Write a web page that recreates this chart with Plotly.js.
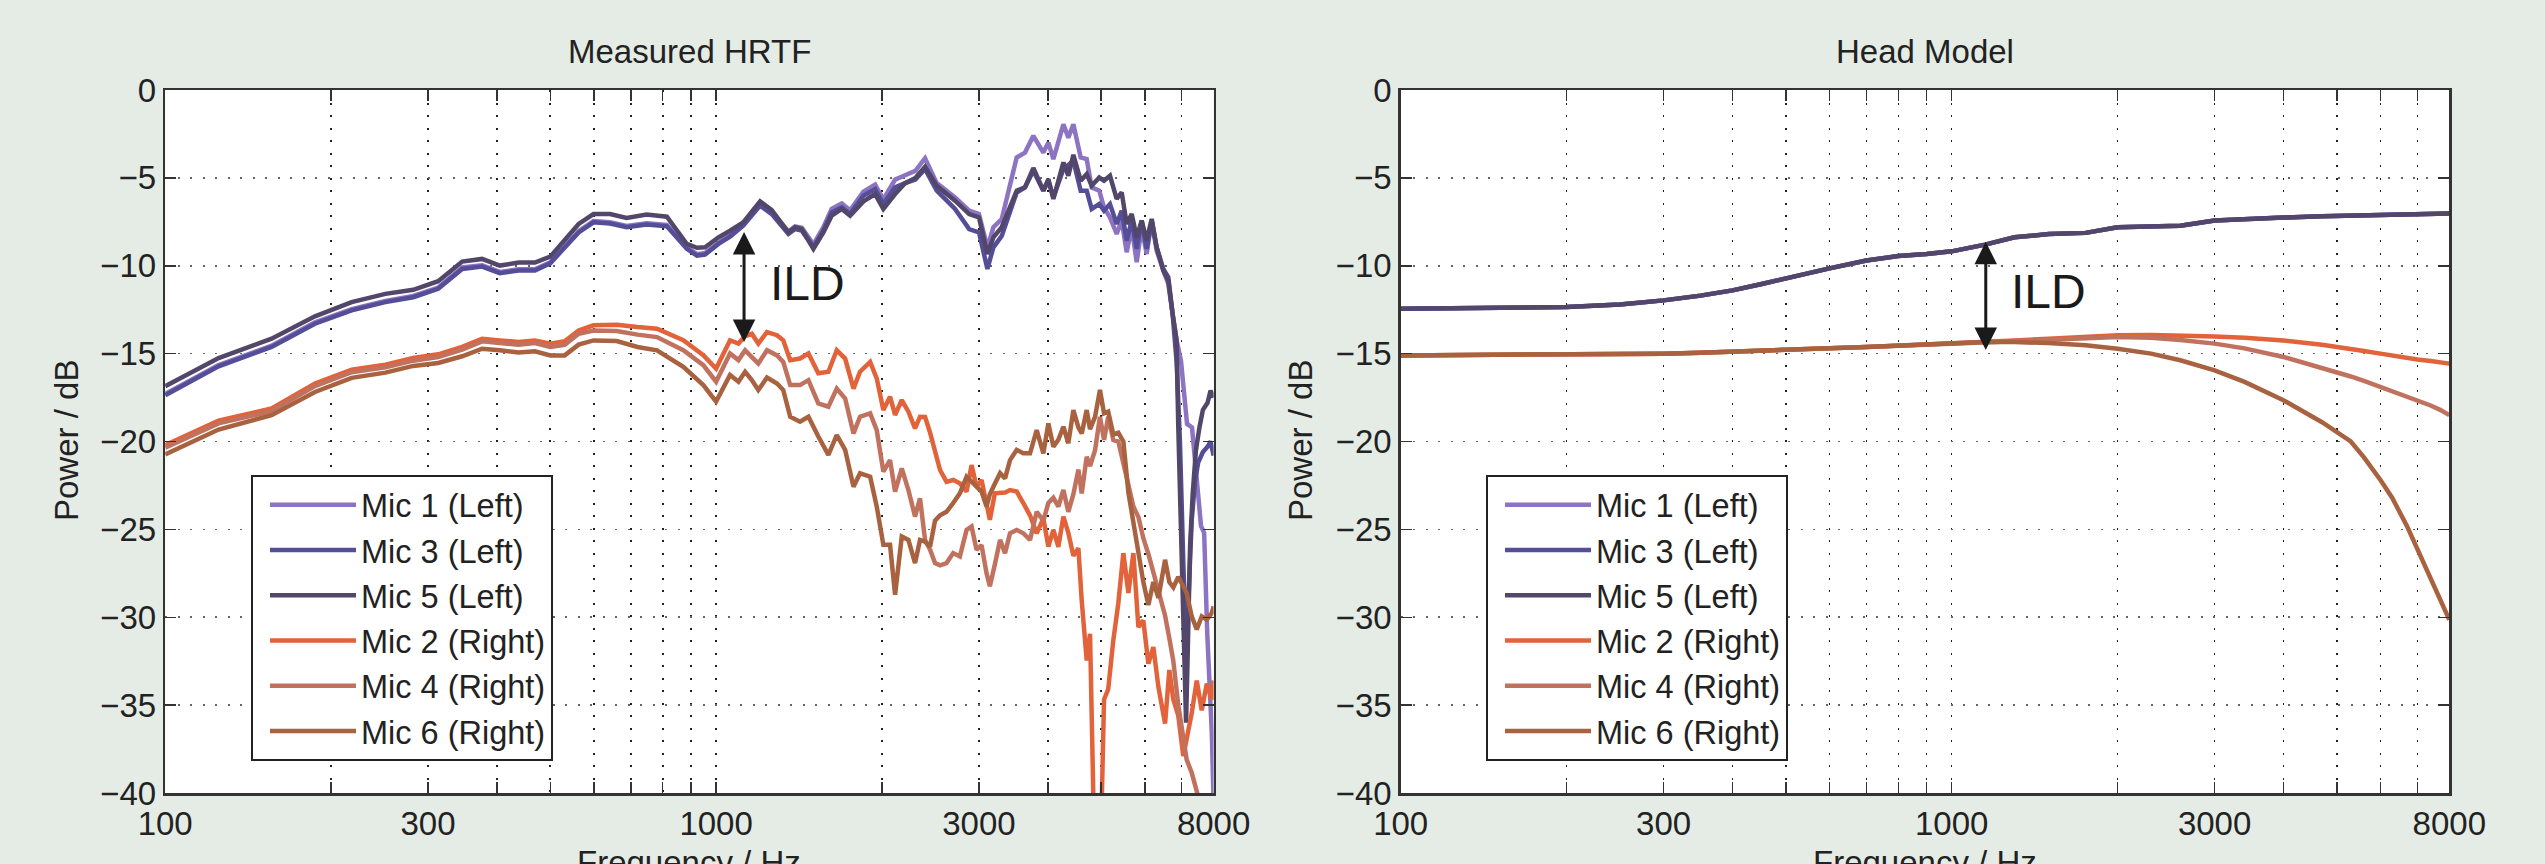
<!DOCTYPE html>
<html>
<head>
<meta charset="utf-8">
<script src="https://cdn.plot.ly/plotly-3.0.1.min.js"></script>
<style>html,body{margin:0;padding:0;background:#E4ECE5;}#chart{width:2545px;height:864px;}</style>
</head>
<body>
<div id="chart"></div>
<script>
// ---------- Measured HRTF: left-ear microphones ----------
const freqLeftLow = [100,125,156,187,218,251,282,313,346,376,405,438,469,500,563,599,642,688,748,814,885,923,955,1010,1060,1120,1202,1262,1353,1391,1431,1502,1566,1621,1691,1751,1851,1944,2012,2113];
const freqLeftHigh = [2203,2300,2395,2515,2715,2880,3000,3108,3187,3300,3513,3637,3766,3927,4010,4095,4270,4359,4452,4590,4707,4806,4960,5060,5188,5335,5448,5563,5681,5801,5923,6048,6176,6306,6483,6620,6740,6855];

const mic1Low = [-17.3,-15.65,-14.55,-13.22,-12.47,-12.0,-11.72,-11.24,-10.1,-9.97,-10.35,-10.2,-10.2,-9.8,-8.03,-7.46,-7.52,-7.74,-7.58,-7.68,-8.96,-9.34,-9.28,-8.68,-8.24,-7.62,-6.48,-6.95,-8.05,-7.76,-7.84,-8.78,-7.8,-6.76,-6.46,-6.84,-5.78,-5.38,-6.22,-5.1];
const mic3Low = [-17.37,-15.72,-14.62,-13.3,-12.54,-12.07,-11.79,-11.31,-10.18,-10.05,-10.42,-10.27,-10.27,-9.86,-8.1,-7.53,-7.6,-7.81,-7.66,-7.76,-9.04,-9.42,-9.36,-8.76,-8.34,-7.72,-6.58,-7.06,-8.19,-7.91,-8.0,-8.95,-8.0,-6.96,-6.68,-7.06,-6.02,-5.64,-6.49,-5.54];
const mic5Low = [-16.86,-15.25,-14.15,-12.88,-12.07,-11.60,-11.37,-10.88,-9.76,-9.61,-9.99,-9.82,-9.82,-9.48,-7.62,-7.06,-7.06,-7.28,-7.09,-7.21,-8.76,-8.98,-8.95,-8.38,-8.0,-7.53,-6.34,-6.83,-8.10,-7.81,-7.91,-9.04,-8.10,-7.15,-6.77,-7.15,-6.34,-5.92,-6.77,-5.92];

const mic1High = [-4.85,-4.6,-3.88,-5.3,-6.11,-6.87,-7.06,-8.95,-7.81,-7.34,-3.84,-3.56,-2.61,-3.56,-2.99,-3.93,-1.95,-2.71,-1.95,-3.84,-3.93,-5.54,-5.73,-6.68,-7.25,-8.19,-7.43,-9.23,-7.81,-9.80,-7.81,-9.33,-7.43,-9.14,-10.27,-11.03,-12.73,-14.25];
const mic3High = [-5.3,-5.1,-4.5,-5.73,-6.77,-7.91,-8.1,-10.18,-8.95,-8.3,-5.83,-5.54,-4.6,-5.73,-5.16,-6.11,-4.5,-4.3,-4.03,-5.73,-5.73,-6.77,-6.49,-6.87,-6.49,-7.62,-6.87,-8.57,-7.43,-9.04,-7.43,-9.04,-7.43,-8.95,-10.18,-10.65,-12.73,-15.5];
const mic5High = [-5.3,-5.0,-4.37,-5.45,-6.30,-7.06,-7.25,-9.33,-8.38,-7.8,-5.73,-5.54,-4.44,-5.73,-5.07,-6.2,-4.12,-4.88,-3.69,-5.16,-4.79,-5.45,-4.98,-5.16,-4.88,-6.2,-5.83,-7.62,-7.06,-8.38,-7.43,-8.57,-7.34,-8.95,-10.27,-10.84,-12.73,-14.25];

const mic1TailFreq = [6980,7060,7160,7310,7430,7590,7690,7790,7940,8000];
const mic1Tail = [-15.4,-17.3,-19.0,-19.2,-21.4,-24.8,-25.2,-30.9,-36.6,-40.5];
const mic3TailFreq = [6950,7050,7120,7170,7220,7300,7400,7500,7650,7800,7900,8000];
const mic3Tail = [-20,-27,-31,-30.5,-27.5,-24.5,-22.3,-21.2,-20.6,-20.3,-20.0,-20.8];
const mic5TailFreq = [6900,7000,7080,7130,7180,7250,7330,7430,7540,7650,7800,7900,8000];
const mic5Tail = [-19,-27,-34,-36,-32,-26,-23,-20.5,-19.2,-18.2,-17.8,-17.1,-17.5];

// ---------- Measured HRTF: right-ear microphones ----------
const freqRightLow = [100,125,156,187,218,251,282,313,346,376,405,438,469,500,531,563,599,660,720,781,872,948,1000,1060,1098,1129,1161,1193,1237,1290,1324,1363,1420,1471,1533,1599,1656,1715,1776,1825,1904,1957,2012,2069,2113,2173,2234,2297,2345];
const freqRightHigh = [2395,2446,2497,2550,2620,2694,2770,2849,2909,2970,3033,3097,3140,3206,3277,3346,3416,3513,3611,3714,3819,3927,4010,4095,4181,4270,4359,4452,4546,4610,4707,4773,4874,4975,5061,5150,5261,5372,5486,5603,5721,5842,5964,6091,6219,6352,6531,6649,6761,6902,7048,7148,7301,7456,7613,7775,7938,8000];

const mic2Low = [-20.2,-18.82,-18.12,-16.7,-15.91,-15.63,-15.25,-15.04,-14.62,-14.15,-14.25,-14.34,-14.25,-14.43,-14.3,-13.68,-13.39,-13.36,-13.49,-13.58,-14.24,-15.09,-15.85,-14.24,-14.43,-14.0,-13.87,-14.43,-13.77,-13.95,-14.24,-15.38,-15.28,-14.99,-16.12,-16.03,-14.81,-15.28,-16.99,-16.03,-15.47,-16.41,-18.21,-17.45,-18.49,-17.64,-18.3,-19.25,-18.59];
const mic4Low = [-20.35,-18.97,-18.27,-16.85,-16.06,-15.78,-15.4,-15.19,-14.77,-14.3,-14.4,-14.49,-14.4,-14.62,-14.5,-13.87,-13.68,-13.71,-13.92,-14.06,-14.81,-15.66,-16.6,-14.99,-15.37,-14.81,-15.2,-15.56,-14.81,-15.1,-15.47,-16.79,-16.79,-16.51,-17.83,-18.02,-16.99,-17.55,-19.54,-18.59,-18.4,-19.35,-21.72,-21.06,-22.85,-21.53,-22.76,-24.27,-23.23];
const mic6Low = [-20.74,-19.32,-18.5,-17.18,-16.38,-16.08,-15.7,-15.53,-15.15,-14.72,-14.81,-14.94,-14.87,-15.1,-15.1,-14.49,-14.25,-14.28,-14.62,-14.81,-15.75,-16.79,-17.73,-16.22,-16.6,-16.03,-16.5,-17.07,-16.36,-16.7,-17.07,-18.59,-18.87,-18.59,-19.72,-20.76,-19.63,-20.48,-22.57,-21.81,-22.0,-23.7,-25.88,-25.88,-28.72,-25.41,-25.6,-26.92,-25.6];

const mic2High = [-18.6,-19.5,-20.6,-21.62,-22.3,-22.19,-22.38,-22.85,-21.34,-22.57,-22.19,-23.5,-24.46,-22.95,-22.95,-22.9,-22.76,-22.85,-23.5,-24.2,-25.22,-24.37,-25.98,-25.03,-26.0,-24.27,-25.2,-26.5,-26.07,-29.05,-32.46,-30.94,-45,-45,-34.68,-34.1,-31.3,-29.2,-26.35,-28.62,-26.35,-30.56,-30.18,-32.64,-31.7,-33.97,-36.05,-33.0,-34.68,-35.6,-37.9,-36.95,-35.45,-33.6,-35.3,-33.78,-34.68,-33.6];
const mic4High = [-25.6,-26.16,-26.92,-27.05,-26.92,-26.35,-26.54,-25.03,-24.84,-26.16,-25.9,-27.5,-28.24,-27.0,-25.6,-26.35,-25.22,-25.03,-25.22,-25.6,-24.0,-24.5,-23.5,-23.2,-23.7,-22.76,-24.0,-23.0,-21.6,-22.95,-20.87,-21.4,-20.5,-18.6,-19.91,-18.59,-19.91,-20.0,-21.3,-22.57,-23.7,-24.3,-25.5,-26.4,-27.48,-28.6,-29.9,-31.2,-32.5,-35.0,-36.8,-38.1,-38.85,-39.8,-41,-42,-42,-42];
const mic6High = [-25.7,-25.98,-24.5,-24.2,-24.0,-23.5,-22.95,-22.0,-22.29,-22.57,-22.85,-23.7,-23.0,-22.4,-21.8,-22.1,-21.06,-20.48,-20.67,-20.67,-19.35,-20.67,-18.97,-20.3,-19.9,-19.16,-20.1,-18.21,-19.2,-19.54,-18.21,-19.3,-18.6,-17.07,-18.4,-18.3,-19.6,-19.5,-20.0,-22.9,-24.6,-26.2,-28.0,-29.3,-28.0,-28.9,-26.73,-28.0,-28.3,-27.7,-28.24,-28.62,-29.95,-30.7,-29.95,-30.14,-29.76,-29.38];

// ---------- Head model ----------
const freqHead = [100,150,200,250,300,350,400,450,500,600,700,800,900,1000,1150,1300,1500,1750,2000,2300,2600,3000,3400,4000,4700,5300,5600,6000,6300,6700,7000,7400,7700,8000];
const headLeft = [-12.45,-12.42,-12.35,-12.2,-11.97,-11.7,-11.4,-11.05,-10.7,-10.15,-9.7,-9.45,-9.33,-9.18,-8.8,-8.38,-8.2,-8.13,-7.81,-7.74,-7.72,-7.43,-7.34,-7.26,-7.18,-7.13,-7.11,-7.09,-7.08,-7.06,-7.05,-7.04,-7.03,-7.02];
const headMic2 = [-15.1,-15.08,-15.05,-15.02,-15.0,-14.95,-14.9,-14.85,-14.8,-14.7,-14.62,-14.55,-14.48,-14.43,-14.34,-14.25,-14.15,-14.05,-13.96,-13.94,-13.96,-14.02,-14.1,-14.25,-14.5,-14.7,-14.85,-15.0,-15.12,-15.25,-15.33,-15.42,-15.5,-15.57];
const headMic4 = [-15.1,-15.08,-15.05,-15.02,-15.0,-14.95,-14.9,-14.85,-14.8,-14.7,-14.62,-14.55,-14.48,-14.43,-14.34,-14.27,-14.2,-14.12,-14.06,-14.1,-14.22,-14.43,-14.7,-15.19,-15.8,-16.3,-16.55,-16.9,-17.12,-17.4,-17.65,-17.95,-18.2,-18.5];
const headMic6 = [-15.1,-15.08,-15.05,-15.02,-15.0,-14.95,-14.9,-14.85,-14.8,-14.7,-14.62,-14.55,-14.48,-14.43,-14.34,-14.34,-14.4,-14.53,-14.72,-15.0,-15.38,-15.95,-16.61,-17.65,-18.9,-20.0,-20.9,-22.19,-23.2,-24.8,-26.1,-27.68,-28.9,-30.14];

// ---------- labels, ticks ----------
const seriesNames = ['Mic 1 (Left)','Mic 3 (Left)','Mic 5 (Left)','Mic 2 (Right)','Mic 4 (Right)','Mic 6 (Right)'];
const seriesColors = ['#8C74C2','#544E98','#52476A','#E2623A','#C0725F','#A8623F'];
const xTickVals = [100,300,1000,3000,8000];
const xTickText = ['100','300','1000','3000','8000'];
const xMinorVals = [200,400,500,600,700,800,900,2000,4000,5000,6000,7000];
const yTickVals = [-40,-35,-30,-25,-20,-15,-10,-5,0];
const panelTitles = ['Measured HRTF','Head Model'];
const xTitle = 'Frequency / Hz';
const yTitle = 'Power / dB';
const ildLabel = 'ILD';
// ILD arrows: [freq, bottom dB, top dB]
const ildMeasured = [1124, -14.34, -8.0];
const ildModel = [1153, -14.8, -8.55];

const FONT = 'Liberation Sans, Arial, Helvetica, sans-serif';
const TXT = '#222';
const LW = 4.5;

const leftX = [freqLeftLow.concat(freqLeftHigh, mic1TailFreq), freqLeftLow.concat(freqLeftHigh, mic3TailFreq), freqLeftLow.concat(freqLeftHigh, mic5TailFreq)];
const leftY = [mic1Low.concat(mic1High, mic1Tail), mic3Low.concat(mic3High, mic3Tail), mic5Low.concat(mic5High, mic5Tail)];
const rightX = freqRightLow.concat(freqRightHigh);
const rightY = [mic2Low.concat(mic2High), mic4Low.concat(mic4High), mic6Low.concat(mic6High)];

const traces = [];
for (let i = 0; i < 3; i++) {
  traces.push({x: leftX[i], y: leftY[i], name: seriesNames[i], mode: 'lines', line: {color: seriesColors[i], width: LW}, xaxis: 'x', yaxis: 'y', legend: 'legend'});
}
for (let i = 0; i < 3; i++) {
  traces.push({x: rightX, y: rightY[i], name: seriesNames[i + 3], mode: 'lines', line: {color: seriesColors[i + 3], width: LW}, xaxis: 'x', yaxis: 'y', legend: 'legend'});
}
const headY = [headLeft, headLeft, headLeft, headMic2, headMic4, headMic6];
for (let i = 0; i < 6; i++) {
  traces.push({x: freqHead, y: headY[i], name: seriesNames[i], mode: 'lines', line: {color: seriesColors[i], width: LW}, xaxis: 'x2', yaxis: 'y2', legend: 'legend2'});
}

const W = 2545, H = 864;
const plotTop = 90, plotBottom = 793;
const leftDom = [165.2 / W, 1213.6 / W];
const rightDom = [1400.7 / W, 2449.3 / W];
const yDom = [1 - plotBottom / H, 1 - plotTop / H];

const dots = '2px,10.5px';
function xAxis(dom, anchor) {
  return {
    domain: dom, anchor: anchor, type: 'log', range: [2, Math.log10(8000)],
    tickmode: 'array', tickvals: xTickVals, ticktext: xTickText,
    ticks: 'inside', ticklen: 11, tickwidth: 1.5, tickcolor: '#333',
    showline: true, linecolor: '#333', linewidth: 2.5, mirror: 'ticks',
    showgrid: true, gridcolor: '#222', gridwidth: 1.6, griddash: dots,
    zeroline: false, fixedrange: true,
    tickfont: {family: FONT, size: 33, color: TXT},
    minor: {tickmode: 'array', tickvals: xMinorVals, ticks: 'inside', ticklen: 11, tickwidth: 1.5, tickcolor: '#333',
            showgrid: true, gridcolor: '#222', gridwidth: 1.6, griddash: dots}
  };
}
function yAxis(anchor) {
  return {
    domain: yDom, anchor: anchor, range: [-40, 0],
    tickmode: 'array', tickvals: yTickVals,
    ticks: 'inside', ticklen: 11, tickwidth: 1.5, tickcolor: '#333',
    showline: true, linecolor: '#333', linewidth: 2.5, mirror: 'ticks',
    showgrid: true, gridcolor: '#666', gridwidth: 1.6, griddash: dots,
    zeroline: false, fixedrange: true,
    tickfont: {family: FONT, size: 33, color: TXT}
  };
}

function legendAt(xpx) {
  return {
    x: xpx / W, y: 1 - 475 / H, xanchor: 'left', yanchor: 'top',
    bgcolor: '#FFFFFF', bordercolor: '#222', borderwidth: 2,
    font: {family: FONT, size: 32.5, color: TXT},
    itemwidth: 86, tracegroupgap: 0, indentation: 12
  };
}

const annotations = [];
const panelCenters = [(leftDom[0] + leftDom[1]) / 2, (rightDom[0] + rightDom[1]) / 2];
for (let p = 0; p < 2; p++) {
  annotations.push({xref: 'paper', yref: 'paper', x: panelCenters[p], y: 1 - 51 / H, xanchor: 'center', yanchor: 'middle',
    text: panelTitles[p], showarrow: false, font: {family: FONT, size: 33, color: TXT}});
  annotations.push({xref: 'paper', yref: 'paper', x: panelCenters[p], y: 1 - 842 / H, xanchor: 'center', yanchor: 'top',
    text: xTitle, showarrow: false, font: {family: FONT, size: 33, color: TXT}});
}
[67 / W, 1301 / W].forEach(function (xp) {
  annotations.push({xref: 'paper', yref: 'paper', x: xp, y: 1 - 441 / H, xanchor: 'center', yanchor: 'middle',
    text: yTitle, textangle: -90, showarrow: false, font: {family: FONT, size: 33, color: TXT}});
});
[[ildMeasured, 'x', 'y', 1243, -11.0], [ildModel, 'x2', 'y2', 1269, -11.45]].forEach(function (d) {
  const a = d[0];
  annotations.push({xref: d[1], yref: d[2], axref: d[1], ayref: d[2],
    x: Math.log10(a[0]), y: a[1], ax: Math.log10(a[0]), ay: a[2],
    text: '', showarrow: true, arrowside: 'end+start', arrowhead: 2, startarrowhead: 2,
    arrowsize: 1.5, startarrowsize: 1.5, arrowwidth: 3, arrowcolor: '#1a1a1a', standoff: 0, startstandoff: 0,
    font: {size: 1}});
  annotations.push({xref: d[1], yref: d[2], x: Math.log10(d[3]), y: d[4], xanchor: 'left', yanchor: 'middle',
    text: ildLabel, showarrow: false, font: {family: FONT, size: 48, color: '#1a1a1a'}});
});

const layout = {
  width: W, height: H,
  margin: {l: 0, r: 0, t: 0, b: 0, pad: 0},
  paper_bgcolor: '#E4ECE5', plot_bgcolor: '#FFFFFF',
  font: {family: FONT, color: TXT},
  showlegend: true,
  xaxis: xAxis(leftDom, 'y'), yaxis: yAxis('x'),
  xaxis2: xAxis(rightDom, 'y2'), yaxis2: yAxis('x2'),
  legend: legendAt(251), legend2: legendAt(1486),
  annotations: annotations
};

Plotly.newPlot('chart', traces, layout, {displayModeBar: false, staticPlot: true});
</script>
</body>
</html>
